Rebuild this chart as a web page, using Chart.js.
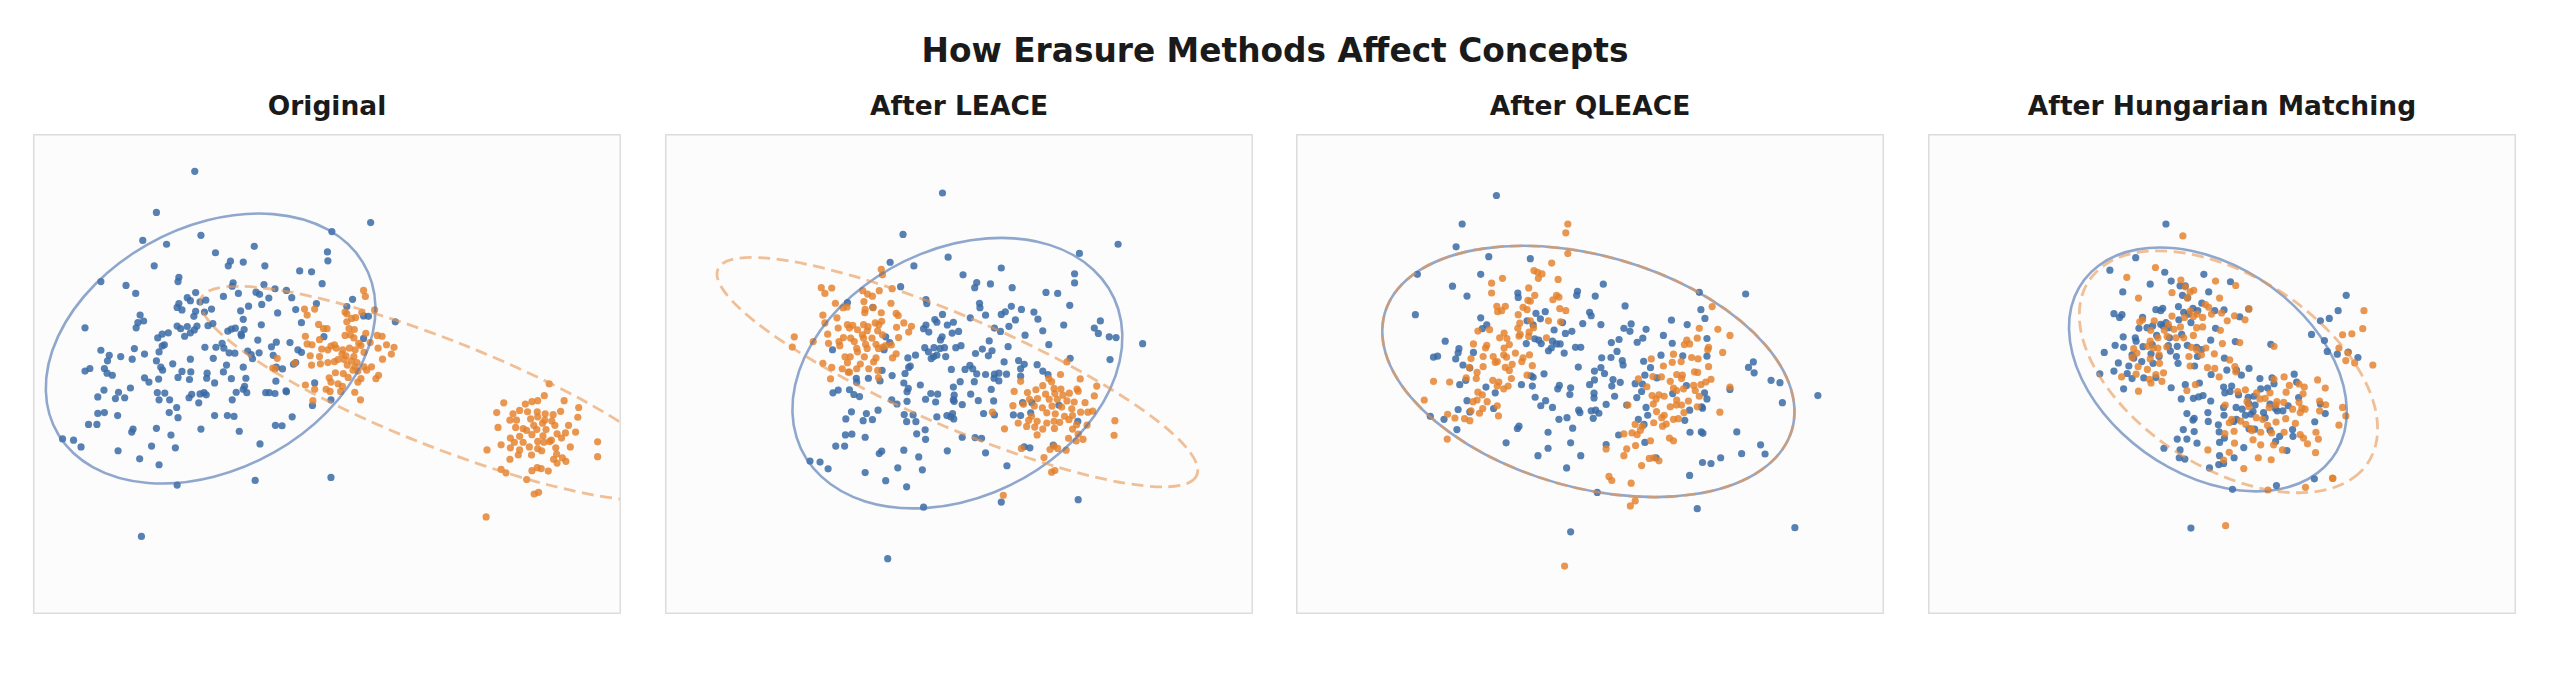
<!DOCTYPE html>
<html>
<head>
<meta charset="utf-8">
<script src="https://cdn.jsdelivr.net/npm/chart.js@4/dist/chart.umd.min.js"></script>
<style>
  html,body{margin:0;padding:0;background:#fff;}
  body{width:2550px;height:675px;position:relative;overflow:hidden;font-family:"DejaVu Sans",sans-serif;color:#1a1a1a;}
  .title{position:absolute;left:0;width:2550px;top:35px;text-align:center;font-weight:bold;font-size:32.8px;line-height:1;}
  .ptitle{position:absolute;top:93px;width:596px;text-align:center;font-weight:bold;font-size:26.5px;line-height:1;}
  .panel{position:absolute;top:130px;width:596px;height:488px;}
</style>
</head>
<body>
<div class="title">How Erasure Methods Affect Concepts</div>
<div id="wrap"></div>
<script>
// Four panels, values in its own pixel frame
// (x to the right, y downwards). Axis ranges are the panel edges.
const TITLES = ['Original', 'After LEACE', 'After QLEACE', 'After Hungarian Matching'];
const X_RANGE = [[68,1402],[52,1512],[57,1515],[47,1505]];
const Y_RANGE = [[303,1435],[88,1503],[90,1503],[90,1503]];

// covariance ellipses: [cx, cy, semi-major, semi-minor, angle deg]
const BLUE_ELL   = [[471,809,400.7,284,-30.6],[778,793,455,346,-42.1],[782,789,534.5,335,22.1],[741,783,408.4,284,48.4]];
const ORANGE_ELL = [[995,915,590,125,22.4],[778,790,668,156.5,27.5],[782,789,534.5,335,22.1],[792,790,440.5,263.8,42.7]];

const ORIG_BLUE = [[435,391],[348,488],[834,512],[746,533],[449,542],[317,554],[371,563],[570,568],[736,581],[482,583],[737,602],[516,603],[545,605],[511,614],[594,614],[343,614],[673,626],[700,628],[399,641],[397,651],[222,651],[279,660],[724,656],[522,654],[592,658],[617,668],[520,662],[643,672],[574,676],[582,681],[437,677],[301,679],[534,679],[500,686],[655,689],[418,689],[603,690],[460,695],[447,699],[425,696],[399,703],[711,703],[587,705],[557,709],[793,693],[473,716],[406,718],[395,712],[437,721],[457,723],[311,730],[664,717],[539,720],[780,710],[623,725],[818,732],[829,733],[433,733],[545,740],[319,744],[306,748],[476,750],[465,755],[677,748],[186,760],[302,760],[395,756],[440,756],[403,762],[418,757],[434,765],[510,768],[586,753],[527,761],[518,763],[547,764],[540,775],[425,772],[412,780],[375,772],[361,775],[351,784],[541,779],[728,781],[818,785],[578,789],[620,794],[651,795],[366,800],[361,803],[609,805],[298,809],[222,813],[458,806],[483,806],[497,797],[501,808],[354,817],[321,822],[526,820],[513,819],[555,815],[563,823],[581,819],[613,825],[669,812],[677,818],[241,825],[267,828],[237,838],[293,834],[348,838],[425,834],[477,832],[566,833],[664,842],[659,846],[230,856],[197,856],[186,862],[385,845],[358,853],[362,860],[545,853],[507,848],[500,864],[620,853],[634,857],[236,867],[248,872],[406,863],[426,864],[463,867],[321,878],[331,888],[353,881],[397,877],[423,882],[462,879],[480,890],[518,880],[551,879],[619,886],[707,890],[289,902],[548,898],[545,905],[229,907],[262,912],[350,913],[367,914],[553,913],[596,913],[604,913],[617,915],[642,909],[643,911],[456,913],[447,916],[461,918],[422,925],[428,917],[529,912],[215,923],[255,927],[276,925],[354,930],[378,930],[520,930],[744,930],[444,937],[702,943],[394,948],[215,962],[230,960],[260,967],[377,960],[397,972],[480,967],[509,967],[524,969],[656,970],[194,988],[213,988],[348,997],[295,999],[292,1006],[449,999],[536,1004],[618,990],[633,991],[381,1013],[135,1022],[160,1025],[177,1041],[337,1039],[391,1043],[583,1034],[261,1050],[310,1069],[354,1083],[395,1131],[572,1120],[744,1113],[314,1252],[890,746]];
const ORIG_ORANGE = [[818,672],[822,686],[684,716],[707,716],[690,730],[776,723],[780,727],[814,724],[843,718],[791,738],[800,736],[780,746],[716,752],[727,762],[735,762],[785,762],[797,764],[823,773],[776,778],[788,777],[849,778],[860,780],[686,780],[718,788],[796,784],[690,798],[701,800],[744,803],[752,800],[807,797],[812,802],[833,795],[870,800],[887,806],[851,808],[737,812],[756,808],[771,812],[786,808],[799,812],[819,818],[697,826],[723,810],[718,828],[769,822],[778,826],[796,828],[881,822],[622,832],[760,835],[774,835],[790,838],[803,842],[861,834],[700,848],[720,845],[737,842],[752,840],[781,848],[798,852],[836,852],[819,852],[662,843],[617,857],[794,860],[805,862],[825,860],[754,866],[772,868],[740,878],[783,877],[812,880],[846,880],[852,872],[686,895],[744,888],[760,892],[770,898],[805,888],[733,905],[742,910],[707,905],[766,910],[798,912],[811,930],[703,932],[612,855],
  [1239,892],[1228,920],[1136,937],[1185,940],[1200,934],[1213,932],[1273,932],[1306,948],[1120,960],[1157,963],[1172,955],[1190,958],[1212,958],[1230,963],[1248,965],[1265,957],[1150,978],[1165,978],[1197,975],[1213,970],[1229,978],[1245,980],[1304,971],[1123,995],[1163,995],[1180,998],[1204,990],[1224,985],[1252,990],[1283,990],[1188,1002],[1211,1000],[1232,1000],[1257,1010],[1276,1008],[1299,1006],[1151,1020],[1172,1016],[1200,1012],[1225,1015],[1244,1025],[1267,1020],[1130,1036],[1160,1030],[1180,1030],[1213,1028],[1227,1030],[1240,1028],[1287,1041],[1349,1029],[1151,1043],[1172,1048],[1194,1041],[1213,1045],[1254,1043],[1098,1048],[1169,1060],[1199,1060],[1222,1050],[1256,1058],[1150,1070],[1249,1070],[1269,1067],[1277,1075],[1257,1079],[1349,1064],[1130,1094],[1141,1102],[1200,1097],[1212,1090],[1221,1092],[1237,1098],[1188,1118],[1205,1152],[1215,1148],[1096,1206]];

const LEACE_BLUE = [[741,262],[643,384],[1177,413],[1081,440],[755,451],[611,466],[670,477],[887,483],[792,503],[1069,500],[1069,527],[826,526],[821,541],[860,530],[914,541],[637,538],[998,555],[1027,558],[700,576],[702,588],[505,585],[1057,593],[833,587],[834,600],[912,596],[937,605],[568,599],[897,612],[887,620],[968,613],[741,620],[848,622],[810,630],[978,634],[1133,639],[722,635],[727,643],[768,643],[922,636],[700,651],[1042,651],[1118,660],[753,651],[906,655],[870,660],[885,670],[990,668],[694,662],[707,672],[765,675],[781,670],[1128,676],[1155,686],[1172,688],[1238,706],[600,686],[740,686],[736,695],[857,698],[946,681],[610,703],[1005,709],[787,712],[774,718],[697,718],[720,718],[735,720],[746,718],[904,715],[468,724],[596,724],[706,730],[727,740],[719,744],[749,744],[864,727],[840,722],[823,735],[855,742],[655,748],[674,740],[713,750],[1058,749],[1157,753],[930,756],[894,760],[976,768],[944,767],[657,776],[809,770],[661,772],[935,780],[763,782],[797,782],[816,780],[848,797],[826,795],[870,796],[881,793],[900,796],[990,787],[1003,797],[591,785],[648,794],[935,802],[616,800],[557,808],[527,808],[528,820],[586,816],[645,822],[686,828],[785,818],[820,818],[869,808],[881,816],[768,834],[862,841],[469,851],[482,843],[510,842],[521,856],[535,862],[656,838],[653,848],[712,853],[729,855],[811,855],[770,858],[790,886],[653,876],[615,872],[628,884],[699,870],[724,878],[768,872],[770,876],[830,874],[868,875],[963,880],[940,880],[1030,887],[515,907],[581,902],[552,912],[501,928],[544,933],[567,930],[646,915],[668,916],[652,936],[675,936],[727,922],[752,918],[766,912],[762,922],[769,928],[843,912],[870,916],[917,916],[935,918],[960,910],[1077,935],[500,975],[516,973],[549,982],[698,960],[677,972],[699,988],[790,982],[822,983],[838,985],[476,1008],[498,1008],[944,1010],[958,1013],[584,1030],[590,1023],[645,1020],[753,1022],[848,1028],[682,1040],[412,1052],[437,1055],[457,1075],[630,1072],[691,1078],[549,1086],[901,1066],[600,1110],[652,1128],[887,1173],[1078,1166],[694,1188],[605,1340],[1016,1005]];
const LEACE_ORANGE = [[589,487],[592,503],[440,541],[466,542],[449,558],[543,550],[555,560],[567,566],[584,550],[616,544],[475,587],[494,600],[504,598],[546,582],[549,605],[569,600],[613,587],[444,622],[479,630],[548,615],[589,615],[626,617],[631,623],[590,640],[449,645],[505,650],[518,652],[545,650],[556,656],[574,645],[583,650],[645,645],[664,655],[482,660],[510,660],[530,665],[554,668],[580,668],[627,658],[657,672],[456,678],[373,686],[495,688],[513,690],[542,680],[545,690],[566,690],[592,680],[632,688],[420,700],[458,705],[484,700],[522,700],[550,708],[576,708],[600,712],[368,716],[486,712],[528,720],[554,720],[582,720],[593,716],[614,710],[626,736],[499,745],[512,745],[530,730],[547,745],[576,748],[617,748],[444,764],[505,762],[537,766],[570,760],[466,776],[492,780],[510,790],[528,780],[558,780],[580,785],[463,810],[582,806],[507,790],
  [1050,760],[1034,797],[1005,809],[1012,818],[935,817],[1083,810],[1124,831],[990,830],[1018,838],[1035,840],[1056,852],[1075,840],[1078,846],[919,847],[952,850],[973,842],[997,855],[1020,853],[1040,858],[1118,860],[957,870],[977,868],[1006,870],[1026,870],[1050,875],[1068,878],[1095,880],[916,889],[942,885],[969,890],[989,895],[1013,890],[1037,893],[1062,898],[1084,908],[1102,908],[1114,905],[1169,933],[1000,910],[1021,913],[1044,920],[1064,918],[962,920],[929,940],[955,932],[976,935],[1000,940],[1018,935],[1032,938],[1055,930],[1074,945],[1100,946],[895,957],[950,950],[970,952],[990,958],[1019,956],[1064,958],[976,975],[1054,985],[1073,993],[1090,988],[1167,976],[937,1015],[1008,1018],[1027,1015],[1048,1020],[1018,1008],[993,1042],[1012,1085],[1020,1080],[892,1153],[865,908],[1078,973]];

const QLEACE_BLUE = [[554,271],[469,355],[454,422],[535,451],[638,457],[358,503],[515,503],[445,538],[481,567],[819,532],[755,553],[753,565],[607,558],[608,571],[799,567],[1057,556],[1172,561],[353,622],[873,596],[1061,607],[785,615],[789,625],[1071,633],[515,631],[652,618],[675,613],[663,634],[630,640],[718,645],[768,648],[813,651],[988,638],[1027,651],[530,652],[519,663],[645,652],[870,662],[888,649],[925,665],[885,671],[741,671],[725,677],[697,667],[968,683],[917,691],[427,700],[628,707],[649,693],[659,697],[665,707],[693,700],[703,708],[712,708],[750,718],[763,718],[839,704],[858,695],[903,703],[990,706],[1076,692],[461,722],[459,734],[497,733],[683,728],[690,720],[722,735],[853,730],[838,748],[815,749],[398,747],[408,744],[453,752],[962,741],[1016,743],[1076,744],[471,770],[488,779],[866,757],[868,770],[919,759],[757,776],[936,778],[1191,761],[1179,777],[1193,793],[813,778],[797,788],[822,795],[672,796],[640,802],[645,806],[922,800],[843,813],[861,821],[1235,815],[1257,822],[463,828],[478,815],[616,828],[643,832],[785,828],[797,814],[840,832],[898,825],[916,826],[952,808],[1025,831],[528,835],[710,830],[706,840],[738,837],[914,848],[1133,842],[551,852],[736,857],[796,853],[796,867],[847,862],[902,866],[991,854],[1070,852],[1351,860],[481,875],[650,865],[676,875],[664,890],[693,895],[826,886],[877,888],[1263,881],[1076,870],[459,901],[488,908],[547,898],[758,903],[761,910],[789,905],[800,903],[808,912],[794,927],[709,930],[729,925],[925,895],[929,918],[1033,903],[1065,897],[1063,893],[390,921],[424,930],[456,960],[606,957],[610,950],[743,956],[682,968],[906,930],[920,945],[1021,933],[1062,967],[1066,971],[1150,967],[1034,968],[578,999],[738,999],[922,998],[857,976],[826,1004],[682,1015],[657,1037],[763,1037],[1209,1005],[1220,1032],[950,1043],[1110,1043],[1065,1057],[1086,1060],[1162,1031],[728,1073],[1033,1095],[804,1145],[1052,1193],[738,1261],[1294,1249]];
const QLEACE_ORANGE = [[731,355],[726,381],[731,442],[691,470],[647,492],[656,497],[658,515],[667,502],[569,515],[707,518],[542,529],[542,558],[634,543],[649,565],[694,578],[709,570],[703,565],[726,610],[711,604],[632,580],[638,582],[555,597],[576,597],[557,613],[567,610],[620,600],[630,607],[608,622],[638,640],[612,647],[646,660],[713,643],[683,640],[537,666],[508,670],[573,676],[607,662],[613,680],[635,673],[678,690],[497,708],[530,712],[562,690],[580,692],[610,685],[634,686],[586,710],[573,720],[527,720],[601,735],[636,740],[491,751],[521,745],[546,745],[556,760],[572,740],[579,747],[620,749],[551,762],[487,777],[521,775],[576,777],[593,768],[617,760],[643,772],[506,792],[504,810],[479,808],[545,815],[560,820],[586,786],[591,810],[630,800],[398,818],[438,820],[556,832],[572,840],[583,832],[508,850],[519,858],[506,873],[531,878],[496,878],[556,890],[520,898],[512,912],[491,905],[375,873],[433,915],[451,926],[475,928],[488,934],[559,920],[432,988],
  [938,752],[968,773],[990,762],[993,738],[1012,760],[1026,697],[1033,708],[1020,710],[1052,691],[1057,662],[1103,665],[1133,683],[1089,598],[1115,733],[1080,718],[1078,725],[1054,752],[1038,748],[1080,775],[1045,790],[1053,792],[942,804],[963,805],[906,811],[927,834],[985,818],[1001,798],[1015,800],[1013,810],[1043,830],[1061,828],[1073,820],[1086,812],[1133,835],[940,860],[957,858],[970,862],[993,838],[1001,845],[1018,840],[1047,845],[1057,862],[880,888],[943,885],[951,907],[985,893],[1000,888],[1013,888],[1052,893],[1108,909],[1019,910],[970,918],[964,925],[993,930],[1005,928],[898,945],[916,950],[944,940],[975,944],[966,950],[911,962],[903,975],[890,970],[870,973],[936,993],[983,985],[993,993],[877,1017],[899,1007],[826,1017],[870,1037],[933,1045],[944,1043],[957,1052],[914,1066],[833,1098],[840,1110],[888,1118],[898,1170],[886,1185],[723,1362],[950,870],[1001,873],[1030,876]];

const HUNG_BLUE = [[637,355],[562,454],[498,491],[634,497],[731,503],[797,525],[650,523],[598,532],[672,537],[685,537],[530,555],[743,555],[678,565],[691,572],[1084,565],[726,588],[668,598],[612,607],[629,603],[624,610],[704,603],[716,610],[758,610],[781,608],[842,605],[1064,610],[508,619],[528,622],[522,630],[681,615],[693,620],[820,628],[1020,640],[1042,633],[579,630],[604,655],[624,650],[637,645],[630,655],[644,660],[590,660],[669,637],[699,645],[570,662],[760,662],[998,680],[531,687],[561,690],[614,683],[646,690],[676,680],[748,697],[809,701],[897,709],[1030,698],[511,712],[532,718],[563,700],[580,716],[603,710],[643,713],[665,715],[690,712],[713,718],[725,725],[1037,730],[1062,738],[1089,732],[1113,748],[484,733],[553,740],[557,750],[600,737],[620,745],[648,729],[663,745],[715,745],[782,750],[519,764],[545,773],[577,760],[605,765],[667,765],[708,773],[788,785],[812,785],[843,780],[473,796],[508,788],[541,795],[553,810],[582,808],[612,807],[749,798],[824,800],[955,797],[870,810],[900,808],[905,825],[532,840],[650,837],[685,828],[720,823],[800,832],[780,835],[783,852],[796,848],[817,858],[841,865],[855,862],[872,840],[889,838],[961,820],[675,870],[705,868],[718,864],[729,860],[748,876],[842,883],[858,888],[895,885],[908,897],[927,905],[940,890],[966,866],[1020,885],[1032,913],[780,895],[811,895],[826,900],[853,907],[879,910],[913,905],[689,913],[741,910],[781,918],[812,930],[834,918],[848,915],[883,925],[1006,937],[704,932],[707,927],[742,936],[767,946],[805,936],[843,958],[857,959],[895,962],[951,960],[680,960],[707,966],[769,967],[919,980],[952,980],[665,988],[689,988],[714,1000],[770,998],[782,985],[909,995],[830,1013],[632,1015],[672,1020],[937,1022],[670,1043],[684,1047],[770,1037],[806,1043],[768,1063],[745,1073],[1005,1105],[802,1136],[911,1125],[699,1250],[780,1060]];
const HUNG_ORANGE = [[679,390],[611,483],[540,512],[674,520],[685,540],[706,550],[697,555],[652,557],[760,523],[810,536],[569,573],[770,573],[690,573],[735,592],[743,600],[697,611],[714,620],[750,620],[775,617],[843,605],[833,637],[579,637],[572,643],[608,640],[652,626],[683,630],[705,627],[728,630],[807,625],[789,640],[1128,610],[643,650],[657,665],[633,668],[673,658],[713,660],[728,658],[599,668],[772,668],[1125,663],[1098,678],[1075,681],[617,690],[640,686],[662,690],[681,690],[705,683],[598,700],[592,715],[606,720],[617,720],[639,717],[700,718],[713,725],[736,720],[820,704],[777,707],[905,715],[1066,720],[1088,734],[557,722],[565,735],[620,740],[694,745],[725,740],[757,737],[1083,757],[1105,764],[1150,770],[553,748],[598,752],[621,765],[697,773],[740,778],[758,780],[795,755],[808,775],[568,775],[591,783],[563,797],[612,798],[631,793],[769,805],[810,790],[527,805],[600,823],[627,818],[596,812],[930,805],[1013,814],[710,828],[905,812],[943,830],[967,826],[980,835],[689,845],[569,847],[815,848],[834,843],[862,852],[895,852],[935,850],[977,855],[1032,838],[838,878],[870,870],[883,868],[912,878],[929,880],[967,880],[1018,876],[1033,887],[784,888],[843,893],[893,895],[910,888],[951,900],[974,897],[982,900],[1018,905],[1075,895],[800,930],[822,935],[861,925],[877,930],[934,928],[970,910],[1083,920],[794,940],[835,945],[848,957],[889,948],[910,938],[958,942],[1066,947],[806,965],[850,963],[872,968],[899,970],[930,968],[970,975],[1009,968],[783,972],[807,1000],[853,990],[872,1005],[904,1005],[926,1020],[978,985],[988,1002],[1015,988],[741,1020],[794,1027],[1008,1028],[866,1043],[898,1049],[780,1050],[830,1075],[1051,1104],[983,1130],[890,1138],[785,1243],[1050,1103]];

const BLUE_PTS = [ORIG_BLUE, LEACE_BLUE, QLEACE_BLUE, HUNG_BLUE];
const ORANGE_PTS = [ORIG_ORANGE, LEACE_ORANGE, QLEACE_ORANGE, HUNG_ORANGE];

const BLUE = '58,106,166', ORANGE = '228,128,42';
const LEFTS = [29, 661, 1292, 1924];

// panel face + frame
const framePlugin = {
  id: 'frame',
  beforeDraw(c){
    const a = c.chartArea, g = c.ctx;
    g.save(); g.fillStyle = '#fcfcfc'; g.fillRect(a.left, a.top, a.width, a.height); g.restore();
  },
  afterDraw(c){
    const a = c.chartArea, g = c.ctx;
    g.save(); g.strokeStyle = '#dcdcdc'; g.lineWidth = 1.5;
    g.strokeRect(a.left + 0.75, a.top + 0.75, a.width - 1.5, a.height - 1.5); g.restore();
  }
};

// ellipses given in data units, mapped through the chart's own scales
const ellipsePlugin = {
  id: 'ellipses',
  afterDatasetsDraw(c, args, opts){
    const g = c.ctx, a = c.chartArea, sx = c.scales.x, sy = c.scales.y;
    g.save();
    g.beginPath(); g.rect(a.left, a.top, a.width, a.height); g.clip();
    for (const e of opts.list) {
      const [cx, cy, ra, rb, ang] = e.p;
      const px = sx.getPixelForValue(cx), py = sy.getPixelForValue(cy);
      const kx = sx.getPixelForValue(cx + 1) - px, ky = sy.getPixelForValue(cy + 1) - py;
      g.save();
      g.translate(px, py); g.scale(kx, ky); g.rotate(ang * Math.PI / 180);
      g.beginPath(); g.ellipse(0, 0, ra, rb, 0, 0, 2 * Math.PI);
      g.restore();
      g.strokeStyle = e.color; g.lineWidth = e.w; g.setLineDash(e.dash);
      g.stroke();
    }
    g.restore();
  }
};

const wrap = document.getElementById('wrap');
TITLES.forEach((t, i) => {
  const h = document.createElement('div');
  h.className = 'ptitle'; h.style.left = LEFTS[i] + 'px'; h.textContent = t;
  wrap.appendChild(h);
  const d = document.createElement('div');
  d.className = 'panel'; d.style.left = LEFTS[i] + 'px';
  const cv = document.createElement('canvas'); d.appendChild(cv); wrap.appendChild(d);

  const toXY = arr => arr.map(p => ({x: p[0], y: p[1]}));
  new Chart(cv, {
    type: 'scatter',
    data: {datasets: [
      {data: toXY(BLUE_PTS[i]), backgroundColor: `rgba(${BLUE},0.85)`, pointRadius: 3.6, borderWidth: 0, order: 2},
      {data: toXY(ORANGE_PTS[i]), backgroundColor: `rgba(${ORANGE},0.82)`, pointRadius: 3.6, borderWidth: 0, order: 1}
    ]},
    options: {
      responsive: true, maintainAspectRatio: false, animation: false,
      layout: {padding: 0},
      plugins: {
        legend: {display: false}, tooltip: {enabled: false},
        ellipses: {list: [
          {p: BLUE_ELL[i], color: 'rgba(76,114,176,0.62)', w: 2.6, dash: []},
          {p: ORANGE_ELL[i], color: 'rgba(232,150,82,0.6)', w: 2.8, dash: [12, 6.5]}
        ]}
      },
      scales: {
        x: {type: 'linear', display: false, min: X_RANGE[i][0], max: X_RANGE[i][1]},
        y: {type: 'linear', display: false, min: Y_RANGE[i][0], max: Y_RANGE[i][1], reverse: true}
      }
    },
    plugins: [framePlugin, ellipsePlugin]
  });
});
</script>
</body>
</html>
